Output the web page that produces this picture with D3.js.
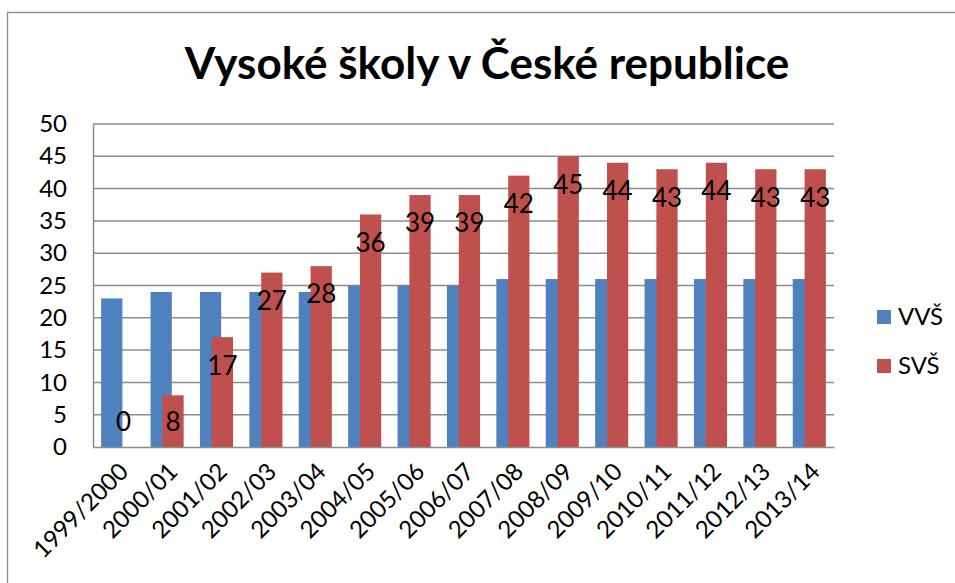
<!DOCTYPE html>
<html lang="cs">
<head>
<meta charset="UTF-8">
<title>Vysoké školy v České republice</title>
<script src="https://d3js.org/d3.v7.min.js"></script>
<style>
  body { margin: 0; background: #fff; }
  svg text { font-family: Lato, "Open Sans", sans-serif; fill: #000; }
</style>
</head>
<body>
<div id="chart"></div>
<script>
// data
const years = ["1999/2000", "2000/01", "2001/02", "2002/03", "2003/04", "2004/05", "2005/06",
               "2006/07", "2007/08", "2008/09", "2009/10", "2010/11", "2011/12", "2012/13", "2013/14"];
const vvs = [23, 24, 24, 24, 24, 25, 25, 25, 26, 26, 26, 26, 26, 26, 26];
const svs = [0, 8, 17, 27, 28, 36, 39, 39, 42, 45, 44, 43, 44, 43, 43];
const yTicks = [0, 5, 10, 15, 20, 25, 30, 35, 40, 45, 50];
const seriesNames = ["VVŠ", "SVŠ"];
const colors = ["#4f81bd", "#c0504d"];

const W = 955, H = 583;
const svg = d3.select("#chart").append("svg")
    .attr("width", W)
    .attr("height", H);

// outer chart border (runs off the right and bottom edge)
svg.append("rect")
    .attr("x", 7.5).attr("y", 12.5)
    .attr("width", 960).attr("height", 600)
    .attr("fill", "#fff")
    .attr("stroke", "#8c8c8c")
    .attr("stroke-width", 1.3);

const plot = {left: 93, right: 834, top: 124, bottom: 447};

const x = d3.scaleBand().domain(years).range([plot.left, plot.right]);
const y = d3.scaleLinear().domain([0, 50]).range([plot.bottom, plot.top]);
const bw = x.bandwidth();

// gridlines
svg.append("g")
  .selectAll("line")
  .data(yTicks.filter(d => d > 0))
  .join("line")
    .attr("x1", plot.left).attr("x2", plot.right)
    .attr("y1", d => y(d)).attr("y2", d => y(d))
    .attr("stroke", "#8c8c8c")
    .attr("stroke-width", 1.5);

// bars: blue first, red overlaps it
const offsets = [0.165, 0.405];
[vvs, svs].forEach((vals, i) => {
  svg.append("g")
    .selectAll("rect")
    .data(vals)
    .join("rect")
      .attr("x", (d, j) => x(years[j]) + bw * offsets[i])
      .attr("width", bw * 0.43)
      .attr("y", d => y(d))
      .attr("height", d => y(0) - y(d))
      .attr("fill", colors[i]);
});

// data labels for SVŠ
svg.append("g")
  .selectAll("text")
  .data(svs)
  .join("text")
    .attr("x", (d, j) => x(years[j]) + bw * offsets[1] + bw * 0.215)
    .attr("y", d => Math.min(y(d) + 28, y(0) - 25))
    .attr("dy", "0.36em")
    .attr("text-anchor", "middle")
    .style("font-size", "26px")
    .text(d => d);

// y axis
const yAxis = svg.append("g")
    .attr("transform", `translate(${plot.left},0)`)
    .call(d3.axisLeft(y).tickValues(yTicks).tickSize(0).tickPadding(26));
yAxis.select(".domain").attr("stroke", "#8c8c8c").attr("stroke-width", 1.5);
yAxis.selectAll("text").style("font-size", "24px").attr("font-family", null);

// x axis
const xAxis = svg.append("g")
    .attr("transform", `translate(0,${plot.bottom})`)
    .call(d3.axisBottom(x).tickSize(0).tickFormat(d => d));
xAxis.select(".domain").attr("stroke", "#8c8c8c").attr("stroke-width", 1.5);
xAxis.selectAll("text")
    .style("font-size", "24px")
    .attr("font-family", null)
    .attr("text-anchor", "end")
    .attr("dy", "0.35em")
    .attr("transform", "translate(4,18) rotate(-45)");

// title
svg.append("text")
    .attr("x", 487).attr("y", 79)
    .attr("text-anchor", "middle")
    .style("font-size", "44px")
    .style("font-weight", "bold")
    .text("Vysoké školy v České republice");

// legend
const legend = svg.append("g")
  .selectAll("g")
  .data(seriesNames)
  .join("g")
    .attr("transform", (d, i) => `translate(877,${310 + i * 49})`);
legend.append("rect")
    .attr("width", 14).attr("height", 14)
    .attr("fill", (d, i) => colors[i]);
legend.append("text")
    .attr("x", 21).attr("y", 15)
    .style("font-size", "24px")
    .text(d => d);
</script>
</body>
</html>
